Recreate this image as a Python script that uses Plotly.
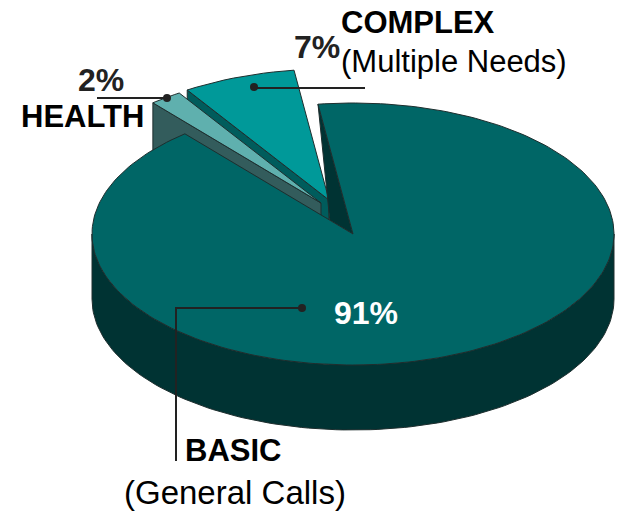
import numpy as np
import plotly.graph_objects as go

# --- data ---
categories = ["BASIC", "HEALTH", "COMPLEX"]
shares = [91, 2, 7]
value_labels = ["91%", "2%", "7%"]
sub_labels = ["(General Calls)", "", "(Multiple Needs)"]

# --- styles / layout ---
W, H = 617, 512
CX, CY, RX, RY, DEPTH = 353, 234, 261, 131, 65
START_ANGLE = -7.7
EXPLODE = {"BASIC": (0, 0), "HEALTH": (-32, -31), "COMPLEX": (-24, -34)}
TOP = {"BASIC": "#006666", "HEALTH": "#5FB0AE", "COMPLEX": "#009999"}
SIDE = {"BASIC": "#003333", "HEALTH": "#335C5C", "COMPLEX": "#005C5C"}
EDGE = "#1E2E2E"
INK = "#222222"
FONT = "Liberation Sans, Arial, sans-serif"


def rim(t, dx=0, dy=0):
    t = np.radians(np.asarray(t, dtype=float))
    return CX + dx + RX * np.sin(t), CY + dy - RY * np.cos(t)


fig = go.Figure()


def poly(xs, ys, color):
    fig.add_trace(go.Scatter(
        x=list(xs) + [xs[0]], y=list(ys) + [ys[0]], mode="lines", fill="toself",
        fillcolor=color, line=dict(color=EDGE, width=1), hoverinfo="skip", showlegend=False))


# slice angle spans from the shares, clockwise from the start angle
spans, a = {}, START_ANGLE
for c, s in zip(categories, shares):
    spans[c] = (a, a + s * 3.6)
    a += s * 3.6


def small_slice(c):
    a0, a1 = spans[c]
    dx, dy = EXPLODE[c]
    ax, ay = CX + dx, CY + dy
    x0, y0 = rim(a0, dx, dy)
    # side wall along the leading edge
    poly([x0, ax, ax, x0], [y0, ay, ay + DEPTH, y0 + DEPTH], SIDE[c])
    tt = np.linspace(a0, a1, 12)
    xs, ys = rim(tt, dx, dy)
    poly([ax, *xs], [ay, *ys], TOP[c])


small_slice("COMPLEX")
small_slice("HEALTH")

a0, a1 = spans["BASIC"]
# inner wall seen through the gap
sx, sy = rim(a0)
ex, ey = rim(a1)
f = 0.138
poly([sx, CX, CX + f * (ex - CX)], [sy, CY, CY + f * (ey - CY)], SIDE["BASIC"])
# outer wall (front half)
tf = np.linspace(90, 270, 120)
xf, yf = rim(tf)
xb, yb = rim(tf[::-1], 0, DEPTH)
poly([*xf, *xb], [*yf, *yb], SIDE["BASIC"])
# top face
tt = np.linspace(a0, a1, 240)
xs, ys = rim(tt)
poly([CX, *xs], [CY, *ys], TOP["BASIC"])

# leader lines
leaders = [
    ([97, 167], [98, 98], [167], [98]),
    ([254, 365], [88, 88], [254], [87]),
    ([176, 176, 302], [461, 308, 308], [302], [308]),
]
for lx, ly, dx, dy in leaders:
    fig.add_trace(go.Scatter(x=lx, y=ly, mode="lines", line=dict(color=INK, width=2),
                             hoverinfo="skip", showlegend=False))
    fig.add_trace(go.Scatter(x=dx, y=dy, mode="markers", marker=dict(color=INK, size=8),
                             hoverinfo="skip", showlegend=False))

texts = [
    ("COMPLEX", 341, 22, 31, True, "#000000"),
    (sub_labels[2], 341, 61, 31, False, "#000000"),
    (value_labels[2], 294, 47, 32, True, INK),
    (value_labels[1], 78, 80, 32, True, INK),
    ("HEALTH", 21, 116, 31, True, "#000000"),
    (value_labels[0], 334, 313, 32, True, "#FFFFFF"),
    ("BASIC", 185, 450, 31, True, "#000000"),
    (sub_labels[0], 124, 492, 33, False, "#000000"),
]
for t, x, y, size, bold, col in texts:
    fig.add_annotation(x=x, y=y, xref="x", yref="y", text=f"<b>{t}</b>" if bold else t,
                       showarrow=False, xanchor="left", yanchor="middle", xshift=-2,
                       font=dict(family=FONT, size=size, color=col))

fig.update_layout(
    width=W, height=H, margin=dict(l=0, r=0, t=0, b=0), showlegend=False,
    paper_bgcolor="white", plot_bgcolor="white",
    xaxis=dict(range=[0, W], visible=False, fixedrange=True),
    yaxis=dict(range=[H, 0], visible=False, fixedrange=True),
)
fig.write_html("out.html", config={"displayModeBar": False},
               post_script="document.body.style.margin='0';document.body.style.overflow='hidden';")
